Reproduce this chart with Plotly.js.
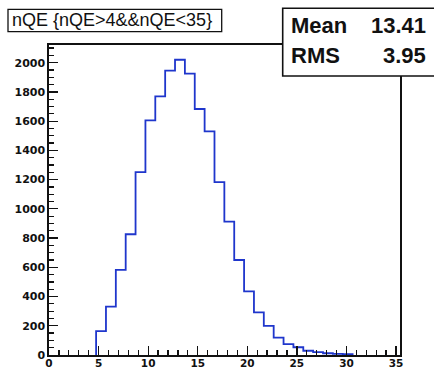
<!DOCTYPE html>
<html>
<head>
<meta charset="utf-8">
<script src="https://cdn.plot.ly/plotly-3.0.1.min.js"></script>
<style>html,body{margin:0;padding:0;background:#fff;}#chart{width:434px;height:370px;}</style>
</head>
<body>
<div id="chart"></div>
<script>
// Histogram bin edges (nQE)
var binEdges = [4.75, 5.745, 6.74, 7.735, 8.73, 9.725, 10.72, 11.715, 12.71, 13.705, 14.70,
  15.695, 16.69, 17.685, 18.68, 19.675, 20.67, 21.665, 22.66, 23.655, 24.65, 25.645,
  26.64, 27.635, 28.63, 29.625, 30.62];
// Entries per bin
var binCounts = [164, 331, 582, 826, 1251, 1605, 1769, 1945, 2020, 1925, 1683, 1530, 1183,
  913, 650, 436, 292, 199, 119, 75, 53, 29, 20, 12, 8, 5];
var histTitle = "nQE {nQE>4&&nQE<35}";
var statNames = ["Mean", "RMS"];
var statValues = ["13.41", "3.95"];
var xTickVals = [0, 5, 10, 15, 20, 25, 30, 35];
var yTickVals = [0, 200, 400, 600, 800, 1000, 1200, 1400, 1600, 1800, 2000];

// step outline
var xs = [binEdges[0]], ys = [0];
for (var i = 0; i < binCounts.length; i++) { xs.push(binEdges[i]); ys.push(binCounts[i]); }
xs.push(binEdges[binEdges.length - 1]); ys.push(0);

var W = 434, H = 370, L = 49, R = 34, T = 45, B = 15;
var pw = W - L - R, ph = H - T - B;
function px(x) { return (x - L) / pw; }
function py(y) { return (H - B - y) / ph; }

var data = [{
  type: 'scatter', mode: 'lines', x: xs, y: ys,
  line: {shape: 'hv', color: '#1f36cc', width: 1.8},
  hoverinfo: 'skip', showlegend: false
}];

var tickFont = {family: 'DejaVu Sans', size: 11, weight: 'bold', color: '#111'};
var layout = {
  width: W, height: H,
  margin: {l: L, r: R, t: T, b: B, pad: 0},
  paper_bgcolor: '#fff', plot_bgcolor: '#fff',
  showlegend: false,
  xaxis: {
    range: [0, 35.4], tickvals: xTickVals, ticktext: xTickVals.map(String),
    ticks: 'inside', ticklen: 9, tickwidth: 1.3, tickcolor: '#111', ticklabelstandoff: -2,
    minor: {dtick: 1, ticks: 'inside', ticklen: 5, tickwidth: 1.3, tickcolor: '#111', showgrid: false},
    showgrid: false, zeroline: false, showline: true, linecolor: '#111', linewidth: 1.6, mirror: true,
    tickfont: {family: 'DejaVu Sans', size: 10.5, weight: 'bold', color: '#111'}, fixedrange: true
  },
  yaxis: {
    range: [0, 2121], tickvals: yTickVals, ticktext: yTickVals.map(String),
    ticks: 'inside', ticklen: 9, tickwidth: 1.3, tickcolor: '#111',
    minor: {dtick: 50, ticks: 'inside', ticklen: 5, tickwidth: 1.3, tickcolor: '#111', showgrid: false},
    showgrid: false, zeroline: false, showline: true, linecolor: '#111', linewidth: 1.6, mirror: true,
    tickfont: tickFont, fixedrange: true
  },
  shapes: [
    {type: 'rect', xref: 'paper', yref: 'paper', x0: px(8), x1: px(221.7), y0: py(31.7), y1: py(9.3),
     line: {color: '#111', width: 1.3}, fillcolor: '#fff', layer: 'above'},
    {type: 'rect', xref: 'paper', yref: 'paper', x0: px(282.7), x1: px(440), y0: py(76), y1: py(8.3),
     line: {color: '#111', width: 1.6}, fillcolor: '#fff', layer: 'above'}
  ],
  annotations: [
    {xref: 'paper', yref: 'paper', x: px(10), y: py(20.5), xanchor: 'left', yanchor: 'middle',
     text: histTitle, showarrow: false, font: {family: 'Liberation Sans', size: 18, color: '#111'}},
    {xref: 'paper', yref: 'paper', x: px(289), y: py(25.8), xanchor: 'left', yanchor: 'middle',
     text: statNames[0], showarrow: false, font: {family: 'Liberation Sans', size: 22, weight: 'bold', color: '#111'}},
    {xref: 'paper', yref: 'paper', x: px(428), y: py(25.8), xanchor: 'right', yanchor: 'middle',
     text: statValues[0], showarrow: false, font: {family: 'Liberation Sans', size: 22, weight: 'bold', color: '#111'}},
    {xref: 'paper', yref: 'paper', x: px(289), y: py(55.8), xanchor: 'left', yanchor: 'middle',
     text: statNames[1], showarrow: false, font: {family: 'Liberation Sans', size: 22, weight: 'bold', color: '#111'}},
    {xref: 'paper', yref: 'paper', x: px(428), y: py(55.8), xanchor: 'right', yanchor: 'middle',
     text: statValues[1], showarrow: false, font: {family: 'Liberation Sans', size: 22, weight: 'bold', color: '#111'}}
  ]
};

Plotly.newPlot('chart', data, layout, {staticPlot: true, displayModeBar: false});
</script>
</body>
</html>
